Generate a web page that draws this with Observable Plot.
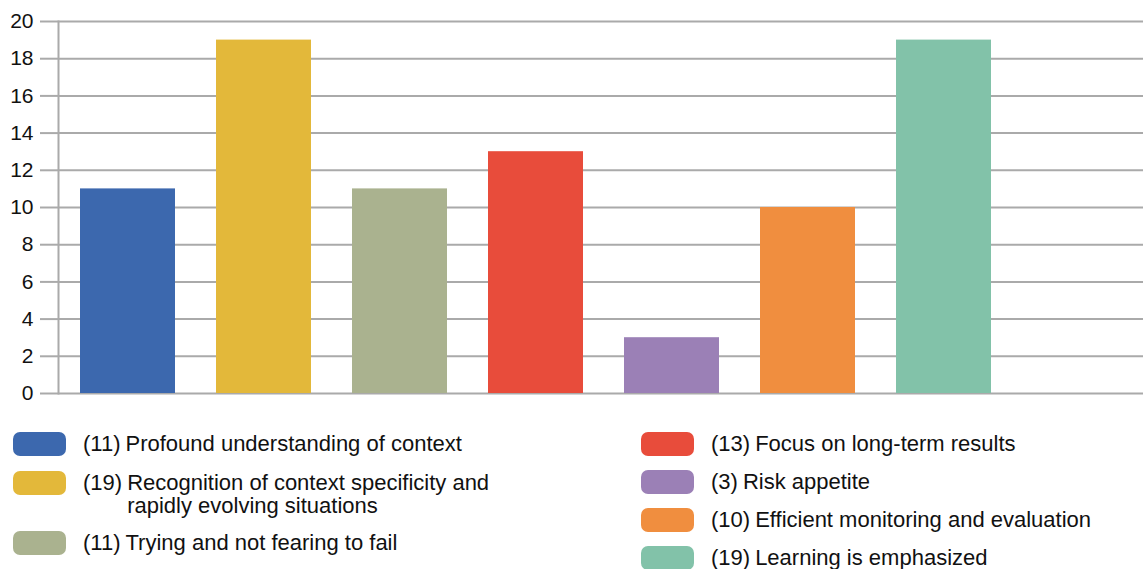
<!DOCTYPE html>
<html>
<head>
<meta charset="utf-8">
<script src="https://cdn.jsdelivr.net/npm/d3@7"></script>
<script src="https://cdn.jsdelivr.net/npm/@observablehq/plot@0.6"></script>
<style>
  body { margin: 0; background: #fff; font-family: "Liberation Sans", Arial, sans-serif; }
  #wrap { position: relative; width: 1143px; height: 569px; overflow: hidden; }
  #chart { position: absolute; top: 0; left: 0; }
  #legend { position: absolute; top: 432px; left: 0; width: 1143px; font-size: 22px; color: #111; }
  .col { position: absolute; top: 0; display: flex; flex-direction: column; gap: 14.5px; }
  .col.right { gap: 14px; }
  .item { display: flex; align-items: flex-start; line-height: 23px; }
  .sw { width: 53px; height: 24px; border-radius: 7px; margin-right: 17px; flex: none; }
  .num { flex: none; margin-right: 5px; }
  .txt { max-width: 395px; }
</style>
</head>
<body>
<div id="wrap">
  <div id="chart"></div>
  <div id="legend"></div>
</div>
<script>
const categories = [
  "Profound understanding of context",
  "Recognition of context specificity and rapidly evolving situations",
  "Trying and not fearing to fail",
  "Focus on long-term results",
  "Risk appetite",
  "Efficient monitoring and evaluation",
  "Learning is emphasized"
];
const counts = [11, 19, 11, 13, 3, 10, 19];
const colors = ["#3c68ae", "#e3b83a", "#aab28f", "#e84c3b", "#9b80b6", "#f08e3f", "#82c2a9"];
const yTicks = [0, 2, 4, 6, 8, 10, 12, 14, 16, 18, 20];
const legendLeft = [0, 1, 2];
const legendRight = [3, 4, 5, 6];

const data = categories.map((c, i) => ({category: c, count: counts[i]}));

const chart = Plot.plot({
  width: 1143,
  height: 408,
  marginTop: 21,
  marginBottom: 15,
  marginLeft: 58,
  marginRight: 0,
  style: {fontFamily: "'Liberation Sans', Arial, sans-serif", fontSize: "21px", color: "#111", background: "transparent"},
  x: {domain: [...categories, ""], range: [59.5, 1147.5], paddingInner: 0.3015, paddingOuter: 0.1507, axis: null},
  y: {domain: [0, 20], ticks: yTicks},
  color: {domain: categories, range: colors},
  marks: [
    Plot.gridY(yTicks, {stroke: "#aaa", strokeOpacity: 1, strokeWidth: 2}),
    Plot.axisY(yTicks, {tickSize: 18, tickPadding: 7, stroke: "#aaa", strokeWidth: 2, label: null, fontSize: 21, fill: "#111"}),
    Plot.barY(data, {x: "category", y: "count", fill: "category"}),
    Plot.frame({anchor: "left", stroke: "#aaa", strokeWidth: 2})
  ]
});
document.getElementById("chart").appendChild(chart);

function makeCol(idx, left, cls) {
  const col = document.createElement("div");
  col.className = "col " + cls;
  col.style.left = left + "px";
  idx.forEach(i => {
    const it = document.createElement("div");
    it.className = "item";
    const sw = document.createElement("div");
    sw.className = "sw";
    sw.style.background = colors[i];
    const num = document.createElement("span");
    num.className = "num";
    num.textContent = "(" + counts[i] + ")";
    const txt = document.createElement("span");
    txt.className = "txt";
    txt.textContent = categories[i];
    it.append(sw, num, txt);
    col.appendChild(it);
  });
  document.getElementById("legend").appendChild(col);
}
makeCol(legendLeft, 13, "left");
makeCol(legendRight, 641, "right");
</script>
</body>
</html>
